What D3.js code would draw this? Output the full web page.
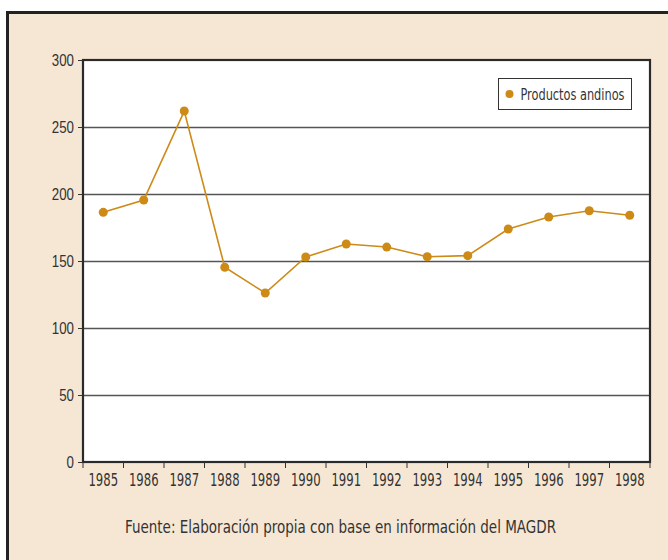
<!DOCTYPE html>
<html>
<head>
<meta charset="utf-8">
<script src="https://cdn.jsdelivr.net/npm/d3@7"></script>
<style>
  body { margin: 0; background: #fff; }
  svg { display: block; font-family: "Liberation Sans Narrow", "DejaVu Sans Condensed", "Roboto", sans-serif; }
</style>
</head>
<body>
<svg id="chart" width="668" height="560"></svg>
<script>
// data
const years = ['1985', '1986', '1987', '1988', '1989', '1990', '1991', '1992', '1993', '1994', '1995', '1996', '1997', '1998'];
const andinos = [186.3, 195.5, 261.9, 145.3, 126.1, 153, 162.7, 160.4, 153.2, 154, 173.9, 182.8, 187.5, 184.1];
const yTicks = [0, 50, 100, 150, 200, 250, 300];
const seriesName = 'Productos andinos';
const source = 'Fuente: Elaboración propia con base en información del MAGDR';

const svg = d3.select('#chart');
const margin = { top: 60, right: 18, bottom: 98, left: 83 };
const width = 668, height = 560;
const lineColor = '#cd8a17';
const digitW = 7.4; // narrow, condensed look of the original typeface

// outer beige panel
svg.append('rect')
  .attr('x', 7.5).attr('y', 12.5)
  .attr('width', 680).attr('height', 570)
  .attr('fill', '#f6e7d4')
  .attr('stroke', '#222').attr('stroke-width', 3);

const x = d3.scaleBand().domain(years).range([margin.left, width - margin.right]);
const y = d3.scaleLinear().domain([0, 300]).range([height - margin.bottom, margin.top]);

// plot area
svg.append('rect')
  .attr('x', margin.left).attr('y', margin.top)
  .attr('width', width - margin.right - margin.left)
  .attr('height', height - margin.bottom - margin.top)
  .attr('fill', '#fff');

// gridlines
svg.append('g')
  .selectAll('line')
  .data(yTicks.filter(d => d > 0 && d < 300))
  .join('line')
  .attr('x1', margin.left).attr('x2', width - margin.right)
  .attr('y1', d => Math.round(y(d)) + 0.5).attr('y2', d => Math.round(y(d)) + 0.5)
  .attr('stroke', '#555').attr('stroke-width', 1.3);

// frame
svg.append('rect')
  .attr('x', margin.left).attr('y', margin.top)
  .attr('width', width - margin.right - margin.left)
  .attr('height', height - margin.bottom - margin.top)
  .attr('fill', 'none').attr('stroke', '#2a2a2a').attr('stroke-width', 2.2);

// y axis
const yAxis = svg.append('g')
  .attr('transform', `translate(${margin.left},0)`)
  .call(d3.axisLeft(y).tickValues(yTicks).tickSize(5).tickPadding(4));
yAxis.select('.domain').remove();
yAxis.selectAll('line').attr('stroke', '#333');
yAxis.selectAll('text')
  .style('font-size', '17px')
  .attr('fill', '#333')
  .attr('textLength', d => String(d).length * digitW)
  .attr('lengthAdjust', 'spacingAndGlyphs');

// x axis: ticks at band boundaries, labels centred in bands
const xAxis = svg.append('g')
  .attr('transform', `translate(0,${height - margin.bottom})`);
const bounds = years.map(d => x(d)).concat([x(years[years.length - 1]) + x.bandwidth()]);
xAxis.selectAll('line')
  .data(bounds)
  .join('line')
  .attr('x1', d => d).attr('x2', d => d)
  .attr('y1', 0).attr('y2', 6)
  .attr('stroke', '#333');
xAxis.selectAll('text')
  .data(years)
  .join('text')
  .attr('x', d => x(d) + x.bandwidth() / 2 - 2 * digitW)
  .attr('y', 24)
  .style('font-size', '17px')
  .attr('fill', '#333')
  .attr('textLength', 4 * digitW)
  .attr('lengthAdjust', 'spacingAndGlyphs')
  .text(d => d);

// series
const pts = years.map((d, i) => ({ year: d, value: andinos[i] }));
svg.append('path')
  .datum(pts)
  .attr('fill', 'none')
  .attr('stroke', lineColor)
  .attr('stroke-width', 1.6)
  .attr('d', d3.line().x(d => x(d.year) + x.bandwidth() / 2).y(d => y(d.value)));
svg.append('g')
  .selectAll('circle')
  .data(pts)
  .join('circle')
  .attr('cx', d => x(d.year) + x.bandwidth() / 2)
  .attr('cy', d => y(d.value))
  .attr('r', 4.5)
  .attr('fill', lineColor);

// legend
const lg = svg.append('g').attr('transform', 'translate(498.5,78.5)');
lg.append('rect')
  .attr('width', 133).attr('height', 31)
  .attr('fill', '#fff').attr('stroke', '#333').attr('stroke-width', 1);
lg.append('circle').attr('cx', 11).attr('cy', 15.5).attr('r', 4).attr('fill', lineColor);
lg.append('text')
  .attr('x', 22).attr('y', 21)
  .style('font-size', '16px')
  .attr('fill', '#333')
  .attr('textLength', 104)
  .attr('lengthAdjust', 'spacingAndGlyphs')
  .text(seriesName);

// source note
svg.append('text')
  .attr('x', 125).attr('y', 533)
  .style('font-size', '17.5px')
  .attr('fill', '#333')
  .attr('textLength', 431)
  .attr('lengthAdjust', 'spacingAndGlyphs')
  .text(source);
</script>
</body>
</html>
